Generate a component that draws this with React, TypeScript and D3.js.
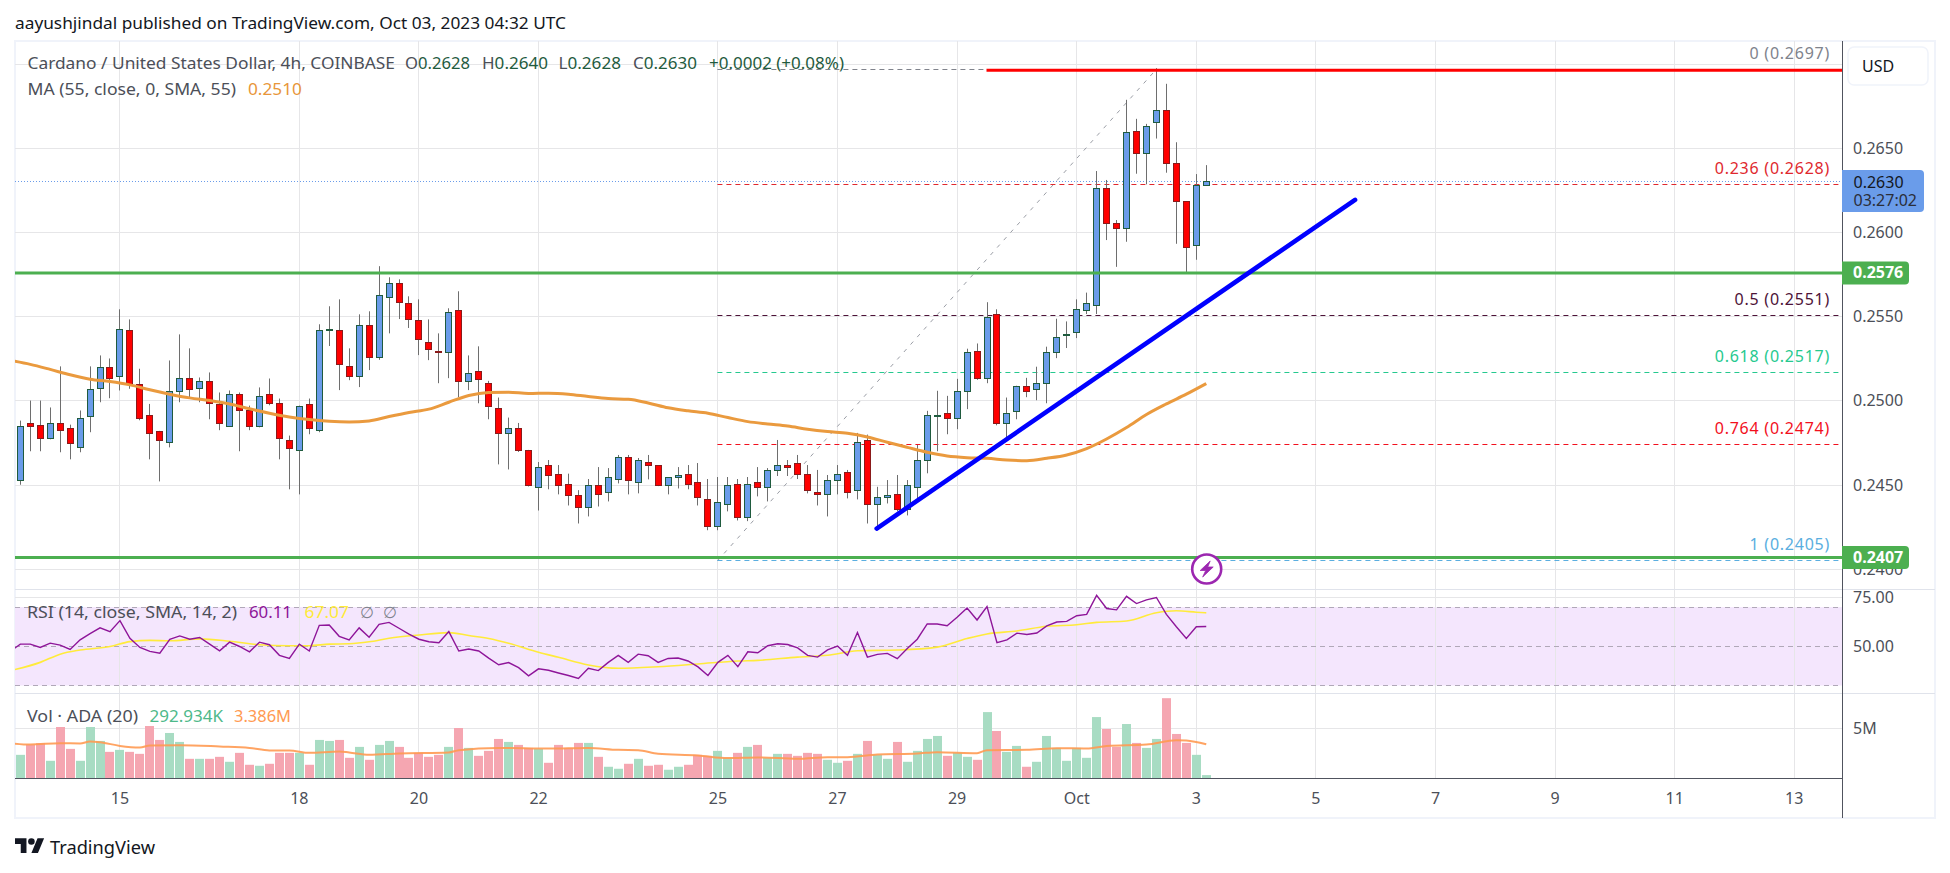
import React from "react";
import * as d3 from "d3";

// ---------- candle data (4h bars, index 0..119) ----------
const opens = [.24530,.24869,.24857,.24780,.24869,.24840,.24726,.24911,.25078,.25203,.25149,.25423,.25101,.24917,.24822,.24756,.25060,.25137,.25078,.25119,.24982,.24851,.25042,.24947,.24851,.25042,.24988,.24768,.24709,.24982,.24828,.25423,.25423,.25209,.25149,.25453,.25262,.25619,.25703,.25584,.25482,.25351,.25298,.25292,.25542,.25119,.25179,.25107,.24959,.24810,.24840,.24709,.24488,.24619,.24566,.24506,.24441,.24369,.24500,.24459,.24536,.24667,.24518,.24637,.24619,.24500,.24548,.24566,.24518,.24417,.24256,.24387,.24506,.24310,.24518,.24488,.24589,.24619,.24631,.24566,.24459,.24447,.24530,.24578,.24471,.24768,.24387,.24429,.24447,.24357,.24488,.24649,.24915,.24929,.24899,.25060,.25298,.25137,.25518,.24869,.24941,.25090,.25072,.25107,.25292,.25399,.25411,.25542,.25572,.26262,.26054,.26028,.26601,.26470,.26655,.26726,.26411,.26185,.25923,.26280];
const highs = [.24883,.25002,.25002,.24961,.25205,.24859,.24943,.25205,.25270,.25252,.25544,.25484,.25191,.24982,.24822,.25240,.25395,.25312,.25139,.25169,.25050,.25062,.25050,.24972,.25080,.25133,.25014,.24794,.24972,.25014,.25455,.25562,.25603,.25312,.25514,.25532,.25800,.25734,.25722,.25621,.25603,.25484,.25401,.25550,.25651,.25270,.25324,.25119,.25020,.24901,.24869,.24709,.24637,.24649,.24619,.24568,.24470,.24536,.24607,.24601,.24679,.24679,.24661,.24679,.24619,.24548,.24607,.24619,.24631,.24536,.24548,.24548,.24536,.24548,.24607,.24601,.24768,.24649,.24679,.24619,.24590,.24560,.24619,.24590,.24810,.24800,.24490,.24530,.24560,.24530,.24738,.24941,.25060,.25030,.25131,.25310,.25341,.25586,.25544,.25020,.25090,.25137,.25203,.25322,.25488,.25472,.25603,.25643,.26365,.26312,.26074,.26788,.26675,.26645,.26976,.26883,.26536,.26185,.26347,.26400];
const lows = [.24502,.24701,.24701,.24772,.24695,.24653,.24695,.24814,.24992,.25016,.25062,.25072,.24885,.24653,.24522,.24724,.24992,.25016,.24992,.24891,.24826,.24851,.24701,.24826,.24843,.24974,.24653,.24475,.24445,.24802,.24814,.25326,.25064,.25123,.25082,.25183,.25244,.25401,.25486,.25433,.25272,.25242,.25105,.25135,.25022,.25064,.24986,.24891,.24623,.24593,.24697,.24492,.24349,.24475,.24445,.24379,.24272,.24314,.24373,.24403,.24510,.24445,.24451,.24534,.24494,.24445,.24480,.24475,.24379,.24232,.24232,.24344,.24290,.24286,.24433,.24403,.24554,.24554,.24536,.24451,.24379,.24314,.24445,.24421,.24415,.24272,.24238,.24391,.24344,.24320,.24411,.24570,.24701,.24802,.24832,.24951,.25125,.25105,.24855,.24756,.24891,.25022,.25004,.24986,.25254,.25314,.25373,.25516,.25516,.25955,.25796,.25945,.26349,.26286,.26558,.26355,.25933,.25756,.25838,.26280];
const closes = [.24851,.24851,.24780,.24869,.24828,.24750,.24899,.25072,.25203,.25137,.25429,.25101,.24899,.24810,.24768,.25060,.25137,.25072,.25119,.24988,.24869,.25042,.24947,.24851,.25030,.24988,.24780,.24720,.24970,.24840,.25423,.25429,.25220,.25149,.25453,.25262,.25631,.25703,.25589,.25488,.25369,.25310,.25290,.25530,.25119,.25167,.25131,.24970,.24810,.24840,.24709,.24500,.24607,.24560,.24500,.24441,.24369,.24500,.24447,.24548,.24667,.24530,.24649,.24619,.24500,.24548,.24560,.24506,.24429,.24256,.24399,.24500,.24310,.24506,.24488,.24589,.24619,.24607,.24566,.24471,.24447,.24530,.24566,.24459,.24756,.24387,.24429,.24441,.24357,.24500,.24649,.24917,.24917,.24899,.25060,.25292,.25137,.25500,.24869,.24929,.25090,.25060,.25107,.25292,.25381,.25399,.25548,.25584,.26262,.26054,.26028,.26595,.26470,.26631,.26726,.26411,.26185,.25911,.26280,.26304];

// 55-period moving average, read at every second bar from -1
const maValues = [.25240,.25217,.25187,.25155,.25129,.25115,.25095,.25066,.25040,.25018,.25002,.24982,.24953,.24927,.24905,.24889,.24879,.24875,.24881,.24907,.24931,.24951,.24992,.25032,.25050,.25052,.25044,.25046,.25040,.25026,.25014,.25010,.24988,.24959,.24941,.24927,.24901,.24877,.24863,.24851,.24832,.24818,.24808,.24786,.24754,.24724,.24695,.24673,.24663,.24659,.24649,.24645,.24659,.24679,.24717,.24774,.24842,.24919,.24982,.25040,.25103];

// RSI, one value per bar starting at bar -1
const rsiValues = [47.4,51.1,51.1,49.4,51.6,50.6,48.4,53.3,56.5,59.4,57.5,63.1,54.1,49.4,47.4,46.5,53.6,55.3,53.6,54.5,51.1,47.7,52.1,49.9,47.2,52.1,50.8,45.4,43.8,51.1,47.6,60.7,60.9,55.1,53.3,59.4,54.6,61.2,62.2,59.2,56.2,53.6,52.3,51.8,57.5,47.6,48.6,47.6,44.0,40.6,41.7,39.1,34.9,38.5,37.8,36.4,35.1,33.6,38.8,37.6,41.8,45.4,41.8,46.0,45.2,41.8,43.8,44.0,42.5,39.5,35.1,41.8,45.4,39.6,47.2,46.7,50.3,51.3,50.9,49.2,45.4,44.5,48.2,50.1,45.4,57.0,44.5,45.9,46.4,43.7,48.9,53.6,61.4,61.4,60.5,64.8,69.5,63.4,70.3,51.9,53.3,56.7,56.0,56.8,60.4,62.4,62.7,65.6,66.3,76.0,69.3,68.6,75.5,71.8,73.7,74.9,66.3,60.0,54.0,60.0,60.11];

// RSI signal line, read at these bars
const rsiSmaBars = [-1,2,4,6,9,11,13,15,18,21,24,27,29,31,33,35,37,40,43,45,47,49,52,54,57,60,64,68,72,74,78,81,84,88,92,95,97,100,103,106,108,111,114,116,118,119];
const rsiSmaValues = [37.6,41.8,46.0,48.1,49.9,52.4,53.0,52.8,53.8,52.6,50.8,50.3,50.3,51.1,51.3,52.3,54.1,55.8,57.0,55.5,54.0,51.6,47.0,44.4,40.5,38.8,39.6,41.0,42.5,42.8,44.5,45.4,47.7,48.1,49.6,54.0,56.3,57.8,60.2,61.0,62.2,62.9,67.1,68.1,67.4,67.07];

// Volume in millions, one per bar
const volumes = [2.33,3.37,3.5,1.73,5.13,2.93,1.73,5.13,3.73,2.63,2.83,2.63,2.43,5.23,3.83,4.53,3.63,1.93,1.93,1.93,2.13,1.63,2.53,1.33,1.23,1.43,2.53,2.53,2.53,1.33,3.83,3.73,3.83,2.03,3.13,1.83,3.33,3.73,3.13,2.03,2.53,2.13,2.33,3.13,5.03,3.03,2.23,2.73,3.93,3.63,3.33,3.03,2.93,1.53,3.33,3.03,3.53,3.53,2.13,1.13,0.93,1.43,1.93,1.23,1.33,0.83,1.13,1.33,2.33,2.23,2.73,2.03,2.53,3.13,3.33,2.03,2.43,2.43,2.23,2.53,2.43,1.83,1.53,1.73,2.43,3.73,2.33,1.93,3.63,1.63,2.73,3.93,4.23,2.23,2.53,2.13,1.83,6.63,4.73,2.63,3.23,1.13,1.63,4.23,3.03,1.73,3.03,2.03,6.13,4.93,3.13,5.43,3.53,3.03,3.93,8.03,4.43,3.53,2.33,0.293];
const volMaBars = [-1,1,4,6,7,8,10,12,13,16,20,23,25,27,29,32,33,35,38,43,44,48,53,57,60,62,64,68,71,74,78,81,83,86,90,92,96,97,101,104,107,109,113,116,117,119];
const volMaValues = [3.5,3.37,3.5,3.47,3.67,3.6,3.23,3.07,3.27,3.3,3.17,3.03,2.77,2.77,2.53,2.67,2.57,2.33,2.47,2.57,2.8,3.03,2.97,3.03,2.83,2.8,2.43,2.27,2.0,2.07,1.93,2.1,2.1,2.37,2.47,2.6,2.5,2.8,2.83,3.0,2.97,3.23,3.37,3.8,3.77,3.386];

// Axis ticks
const priceTicks = [0.27, 0.265, 0.26, 0.255, 0.25, 0.245, 0.24];
const priceLabels = ["0.2650", "0.2600", "0.2550", "0.2500", "0.2450", "0.2400"];
const dayBars = [10, 28, 40, 52, 70, 82, 94, 106, 118, 130, 142, 154, 166, 178];
const dayLabels = ["15", "18", "20", "22", "25", "27", "29", "Oct", "3", "5", "7", "9", "11", "13"];

// Fibonacci levels
const fibRatios = ["0", "0.236", "0.5", "0.618", "0.764", "1"];
const fibPrices = [0.2697, 0.26285, 0.2551, 0.2517, 0.2474, 0.2405];
const fibShown = ["0.2697", "0.2628", "0.2551", "0.2517", "0.2474", "0.2405"];
const fibColors = ["#80838c", "#e0282e", "#4d1338", "#26c98f", "#f2101d", "#5aaee0"];

// Drawn levels and lines
const supportPrices = [0.2576, 0.2407];
const resistancePrice = 0.26964;
const trendBars = [85.93, 133.93];
const trendPrices = [0.24242, 0.26194];
const lastPrice = 0.263;

const FONT = "'Noto Sans', 'Open Sans', sans-serif";
const LEFT = 15, AXIS = 1842, RIGHT = 1935, TOP = 41, BOTTOM = 818;
const PANE1 = 589, PANE2 = 693, TIMEY = 778;
const GRID = "#e6e6e8", TXT = "#4c4f58";

const x = d3.scaleLinear().domain([0, 119]).range([20.3, 20.3 + 119 * 9.966]);
const y = d3.scaleLinear().domain([0.24, 0.265]).range([569.3, 148.3]);
const yRsi = d3.scaleLinear().domain([50, 75]).range([646.3, 597.3]);
const yVol = d3.scaleLinear().domain([0, 5]).range([TIMEY, 728.3]);

const snap = (v: number) => Math.floor(v) + 0.5;

function T({ at, end, base, fill, children }: { at: number; end: number; base: number; fill: string; children: React.ReactNode }) {
  return (
    <text x={at} y={base} fill={fill} fontFamily={FONT} fontSize={16} textLength={end - at} lengthAdjust="spacingAndGlyphs">
      {children}
    </text>
  );
}

export default function App() {
  const maLine = d3.line<number>().x((_, i) => x(-1 + 2 * i)).y((d) => y(d)).curve(d3.curveMonotoneX);
  const rsiLine = d3.line<number>().x((_, i) => x(i - 1)).y((d) => yRsi(d));
  const rsiSmaLine = d3.line<number>().x((_, i) => x(rsiSmaBars[i])).y((d) => yRsi(d)).curve(d3.curveMonotoneX);
  const volMaLine = d3.line<number>().x((_, i) => x(volMaBars[i])).y((d) => yVol(d)).curve(d3.curveMonotoneX);
  const txt = { fontFamily: FONT, fontSize: 16 } as const;
  const fibX = x(69.95);
  return (
    <svg width={1950} height={873} style={{ position: "fixed", left: 0, top: 0, background: "#fff" }}>
      <defs>
        <clipPath id="pane"><rect x={LEFT} y={TOP} width={AXIS - LEFT} height={BOTTOM - TOP} /></clipPath>
      </defs>
      <T at={15} end={566} base={28.5} fill="#131722">aayushjindal published on TradingView.com, Oct 03, 2023 04:32 UTC</T>

      {/* frame */}
      <rect x={15} y={41} width={RIGHT - 15} height={BOTTOM - 41} fill="#fff" stroke="#f0f3fa" strokeWidth={2} />

      {/* RSI band */}
      <rect x={LEFT} y={yRsi(70)} width={AXIS - LEFT} height={yRsi(30) - yRsi(70)} fill="#f4e6fd" />

      {/* grid */}
      {dayBars.map((b) => (
        <line key={b} x1={snap(x(b))} x2={snap(x(b))} y1={TOP} y2={TIMEY} stroke={GRID} strokeWidth={1} />
      ))}
      {priceTicks.map((p) => (
        <line key={p} x1={LEFT} x2={AXIS} y1={snap(y(p))} y2={snap(y(p))} stroke={GRID} />
      ))}
      <line x1={LEFT} x2={AXIS} y1={snap(yRsi(75))} y2={snap(yRsi(75))} stroke={GRID} />
      <line x1={LEFT} x2={AXIS} y1={snap(yVol(5))} y2={snap(yVol(5))} stroke={GRID} />
      {[70, 50, 30].map((r) => (
        <line key={r} x1={LEFT} x2={AXIS} y1={snap(yRsi(r))} y2={snap(yRsi(r))} stroke="#b0a8b8" strokeDasharray="5 4" />
      ))}

      {/* pane separators */}
      <line x1={LEFT} x2={RIGHT} y1={PANE1 + 0.5} y2={PANE1 + 0.5} stroke="#e0e3eb" />
      <line x1={LEFT} x2={RIGHT} y1={PANE2 + 0.5} y2={PANE2 + 0.5} stroke="#e0e3eb" />

      {/* Fibonacci */}
      <line x1={fibX} x2={x(114)} y1={y(fibPrices[5])} y2={y(fibPrices[0])} stroke="#9b9ea6" strokeDasharray="4 6" />
      {fibPrices.map((p, i) => (
        <line key={i} x1={fibX} x2={AXIS} y1={snap(y(p))} y2={snap(y(p))} stroke={fibColors[i]} strokeDasharray="5 4" />
      ))}
      {fibPrices.map((_, i) => (
        <text key={i} x={1830} y={y(fibPrices[i]) - 10.5} textAnchor="end" fontFamily={FONT} fontSize={16} letterSpacing={0.75} fill={fibColors[i]}>
          {`${fibRatios[i]} (${fibShown[i]})`}
        </text>
      ))}

      {/* last price line */}
      <line x1={LEFT} x2={AXIS} y1={snap(y(lastPrice))} y2={snap(y(lastPrice))} stroke="#6a9cea" strokeDasharray="1 2" />

      {/* volume and RSI */}
      <g clipPath="url(#pane)">
        {volumes.map((v, i) => (
          <rect key={i} x={Math.floor(x(i)) - 4} width={9} y={yVol(v)} height={TIMEY - yVol(v)} fill={closes[i] >= opens[i] ? "#a8dcc3" : "#f5a6b1"} />
        ))}
        <path d={volMaLine(volMaValues) ?? ""} fill="none" stroke="#ff9a52" strokeWidth={2} opacity={0.9} />
        <path d={rsiSmaLine(rsiSmaValues) ?? ""} fill="none" stroke="#ffeb3b" strokeWidth={1.6} />
        <path d={rsiLine(rsiValues) ?? ""} fill="none" stroke="#8e1599" strokeWidth={1.4} />
      </g>

      {/* candles */}
      {opens.map((o, i) => {
        const up = closes[i] >= o;
        const cx = snap(x(i));
        const top = Math.round(y(Math.max(o, closes[i]))) + 0.5;
        const bot = Math.round(y(Math.min(o, closes[i]))) + 0.5;
        return (
          <g key={i}>
            <line x1={cx} x2={cx} y1={y(highs[i])} y2={y(lows[i])} stroke="#6e6e6e" />
            <rect x={cx - 3} y={top} width={6} height={Math.max(bot - top, 1)}
              fill={up ? "#6a9cea" : "#ff0000"} stroke={up ? "#1f5b3e" : "#8a1a1a"} />
          </g>
        );
      })}

      {/* MA */}
      <g clipPath="url(#pane)">
        <path d={maLine(maValues) ?? ""} fill="none" stroke="#ea9a3e" strokeWidth={3} />
      </g>

      {/* drawn lines */}
      {supportPrices.map((p) => (
        <line key={p} x1={LEFT} x2={AXIS} y1={y(p)} y2={y(p)} stroke="#4caf50" strokeWidth={3} />
      ))}
      <line x1={x(96.95)} x2={AXIS} y1={y(resistancePrice)} y2={y(resistancePrice)} stroke="#ff0000" strokeWidth={3} />
      <line x1={x(trendBars[0])} x2={x(trendBars[1])} y1={y(trendPrices[0])} y2={y(trendPrices[1])} stroke="#0000ff" strokeWidth={4.6} strokeLinecap="round" />

      {/* event icon */}
      <g transform="translate(1206.7 569)">
        <circle r={14.5} fill="#fff" stroke="#9c27b0" strokeWidth={2.6} />
        <path d="M3.5-8 L-6.5 1.5 L-1 1.5 L-4 8 L6.5-2 L1-2 Z" fill="#9c27b0" stroke="#9c27b0" strokeWidth={0.8} />
      </g>

      {/* legends */}
      <T at={27.5} end={395} base={68.5} fill={TXT}>Cardano / United States Dollar, 4h, COINBASE</T>
      <T at={405} end={470} base={68.5} fill={TXT}>O<tspan fill="#1f5b3e">0.2628</tspan></T>
      <T at={482} end={548} base={68.5} fill={TXT}>H<tspan fill="#1f5b3e">0.2640</tspan></T>
      <T at={558.5} end={621} base={68.5} fill={TXT}>L<tspan fill="#1f5b3e">0.2628</tspan></T>
      <T at={633} end={697} base={68.5} fill={TXT}>C<tspan fill="#1f5b3e">0.2630</tspan></T>
      <T at={709} end={844} base={68.5} fill="#1f5b3e">+0.0002 (+0.08%)</T>
      <T at={27.5} end={236} base={94.5} fill={TXT}>MA (55, close, 0, SMA, 55)</T>
      <T at={248} end={302} base={94.5} fill="#e8963a">0.2510</T>
      <T at={27} end={237} base={618} fill={TXT}>RSI (14, close, SMA, 14, 2)</T>
      <T at={249} end={292} base={618} fill="#8e1599">60.11</T>
      <T at={304.5} end={349} base={618} fill="#ffeb3b">67.07</T>
      <text x={360} y={618} {...txt} fill="#80838c">∅</text>
      <text x={383} y={618} {...txt} fill="#80838c">∅</text>
      <T at={27} end={138} base={722} fill={TXT}>Vol · ADA (20)</T>
      <T at={149.5} end={223} base={722} fill="#4eb98a">292.934K</T>
      <T at={234} end={291} base={722} fill="#ff9a52">3.386M</T>

      {/* axes */}
      <line x1={AXIS + 0.5} x2={AXIS + 0.5} y1={TOP} y2={BOTTOM} stroke="#50535e" />
      <line x1={LEFT} x2={AXIS} y1={TIMEY + 0.5} y2={TIMEY + 0.5} stroke="#50535e" />
      {priceLabels.map((t) => (
        <text key={t} x={1853} y={y(+t) + 5.5} {...txt} fill={TXT}>{t}</text>
      ))}
      <text x={1853} y={yRsi(75) + 5.5} {...txt} fill={TXT}>75.00</text>
      <text x={1853} y={yRsi(50) + 5.5} {...txt} fill={TXT}>50.00</text>
      <text x={1853} y={yVol(5) + 5.5} {...txt} fill={TXT}>5M</text>
      {dayBars.map((b, i) => (
        <text key={b} x={x(b)} y={803.5} textAnchor="middle" {...txt} fill={TXT}>{dayLabels[i]}</text>
      ))}

      {/* price tags */}
      {supportPrices.map((p, i) => (
        <g key={p}>
          <path d={`M${AXIS} ${y(p) - 11.5} h63 a4 4 0 0 1 4 4 v15 a4 4 0 0 1 -4 4 h-63 z`} fill="#4caf50" />
          <text x={1853} y={y(p) + 5.5} {...txt} fontWeight={700} fill="#fff">{i === 0 ? "0.2576" : "0.2407"}</text>
        </g>
      ))}
      <path d={`M${AXIS} 170 h78 a4 4 0 0 1 4 4 v34 a4 4 0 0 1 -4 4 h-78 z`} fill="#6a9cea" />
      <text x={1853.5} y={187.5} {...txt} fill="#131722">0.2630</text>
      <text x={1853.5} y={206} {...txt} fill="#2a2e39">03:27:02</text>

      {/* USD button */}
      <rect x={1848} y={47} width={80} height={38} rx={6} fill="#fff" stroke="#f0f3fa" strokeWidth={1.5} />
      <text x={1862} y={71.5} {...txt} fill="#131722">USD</text>

      {/* logo */}
      <g transform="translate(15 835) scale(0.82)" fill="#131722">
        <path d="M14 22H7V11H0V4h14v18zM28 22h-8l7.5-18h8L28 22z" />
        <circle cx={20} cy={8} r={4} />
      </g>
      <text x={50} y={854} fontFamily={FONT} fontSize={18.5} fill="#131722" textLength={105} lengthAdjust="spacingAndGlyphs">TradingView</text>
    </svg>
  );
}
